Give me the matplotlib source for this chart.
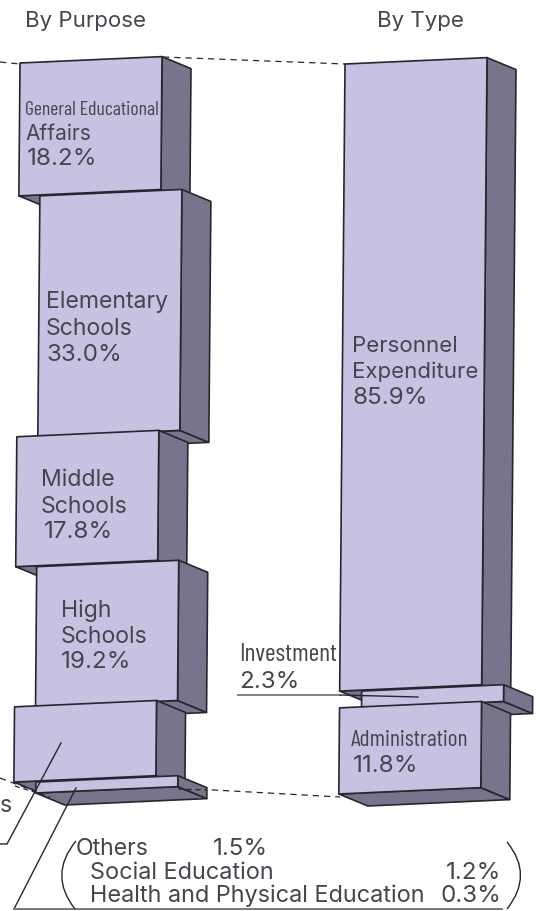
import matplotlib
matplotlib.use('Agg')
import matplotlib.pyplot as plt
from matplotlib.patches import Polygon, PathPatch
from matplotlib.path import Path

# =========================================================
# DATA
# =========================================================
purpose_names = ['General Educational Affairs', 'Elementary Schools', 'Middle Schools',
                 'High Schools', 'Other Schools', 'Others']
purpose_shares = [18.2, 33.0, 17.8, 19.2, 10.3, 1.5]

type_names = ['Personnel Expenditure', 'Investment', 'Administration']
type_shares = [85.9, 2.3, 11.8]

# =========================================================
# STYLE
# =========================================================
FRONT = '#C6C3E2'
SIDE = '#76758C'
EDGE = '#26262E'
TEXT = '#45454D'
GRAY = '#77777A'

PX_PER_PCT = 7.3
WIDTH = 142
SKEW = -0.045     # top edge climbs to the right
LEAN = -0.0085    # left edge drifts left going down
DX, DY = 29, 12   # depth of the box

BODY = ['Inter', 'Open Sans', 'DejaVu Sans']
NARROW = ['Barlow Condensed', 'Roboto Condensed', 'Lato', 'DejaVu Sans']
plt.rcParams['font.family'] = BODY

fig = plt.figure(figsize=(5.39, 9.11), dpi=100)
ax = fig.add_axes([0, 0, 1, 1])
ax.set_xlim(0, 539)
ax.set_ylim(911, 0)
ax.axis('off')


def block(x0, y0, top, offset, share):
    # one box of a stack, top = y of its front top left corner
    h = share * PX_PER_PCT
    xl = x0 + LEAN * (top - y0) + offset
    xb = xl + LEAN * h
    rise = SKEW * WIDTH
    tl = (xl, top)
    tr = (xl + WIDTH, top + rise)
    bl = (xb, top + h)
    br = (xb + WIDTH, top + h + rise)
    d = lambda p: (p[0] + DX, p[1] + DY)
    ax.add_patch(Polygon([bl, br, d(br), d(bl)], fc=SIDE, ec=EDGE, lw=1.2, joinstyle='round'))
    ax.add_patch(Polygon([tr, d(tr), d(br), br], fc=SIDE, ec=EDGE, lw=1.2, joinstyle='round'))
    ax.add_patch(Polygon([tl, tr, br, bl], fc=FRONT, ec=EDGE, lw=1.2, joinstyle='round'))
    return top + h


def stack(x0, y0, shares, offsets):
    top = y0
    for share, off in zip(shares, offsets):
        top = block(x0, y0, top, off, share)


# dashed guides go behind the boxes
for xs, ys in [([0, 20], [62, 64]), ([163, 345], [57, 64]),
               ([0, 50], [778, 797]), ([178, 340], [788, 797])]:
    ax.plot(xs, ys, color=EDGE, lw=0.9, dashes=(5, 4), zorder=0)

stack(20, 63, purpose_shares, [0, 21, 0, 21, 0, 22])
stack(345, 64, type_shares, [0, 22, 0])

# dashed piece that runs over the underside
ax.plot([15, 50], [786, 797], color=EDGE, lw=0.9, dashes=(4, 3), zorder=5)
ax.plot([178, 206], [789, 790], color=EDGE, lw=0.9, dashes=(4, 3), zorder=5)

# =========================================================
# LEADERS AND BRACKETS
# =========================================================
ax.plot([61, 7, 0], [743, 844, 844], color=EDGE, lw=1.0, zorder=6)
ax.plot([76, 14], [788, 909], color=EDGE, lw=1.0, zorder=6)
ax.plot([14, 502], [909, 909], color=GRAY, lw=1.4, zorder=6)
ax.plot([238, 340], [695, 695], color=GRAY, lw=1.3, zorder=6)
ax.plot([340, 418], [695, 697], color=EDGE, lw=1.0, zorder=6)

for pts in [[(76, 841), (48, 875), (75, 909)], [(507, 842), (534, 875), (507, 909)]]:
    ax.add_patch(PathPatch(Path(pts, [Path.MOVETO, Path.CURVE3, Path.CURVE3]),
                           fc='none', ec=EDGE, lw=1.0, zorder=6))

# =========================================================
# TEXT
# =========================================================
SIZE = 16.6
PCT = 17.4


def label(x, y, s, size=SIZE, ha='left', family=None):
    ax.text(x, y, s, fontsize=size, ha=ha, va='baseline', color=TEXT, zorder=7,
            family=family or BODY)


label(25, 27, 'By Purpose', size=16)
label(377, 27, 'By Type', size=16)

label(25, 115, 'General Educational', size=14.2, family=NARROW)
label(25, 140, 'Affairs', size=15)
label(27, 165, f'{purpose_shares[0]}%', size=PCT)

label(46, 308, 'Elementary')
label(46, 335, 'Schools')
label(46, 361, f'{purpose_shares[1]}%', size=PCT)

label(41, 486, 'Middle')
label(41, 513, 'Schools')
label(44, 538, f'{purpose_shares[2]}%', size=PCT)

label(61, 617, 'High')
label(61, 643, 'Schools')
label(61, 668, f'{purpose_shares[3]}%', size=PCT)

label(352, 352, 'Personnel', size=16)
label(352, 378, 'Expenditure', size=16)
label(352, 404, f'{type_shares[0]}%', size=PCT)

label(239, 661, type_names[1], size=18.5, family=NARROW)
label(239, 688, f'{type_shares[1]}%', size=PCT)

label(351, 746, type_names[2], size=17, family=NARROW)
label(353, 772, f'{type_shares[2]}%', size=PCT)

label(0, 812, 's')

label(76, 855, purpose_names[5])
label(268, 855, f'{purpose_shares[5]}%', ha='right', size=PCT)
label(90, 879, 'Social Education', size=16.9)
label(501, 879, '1.2%', ha='right', size=PCT)
label(90, 902, 'Health and Physical Education', size=16.9)
label(501, 902, '0.3%', ha='right', size=PCT)

fig.savefig('out.png', dpi=100)
